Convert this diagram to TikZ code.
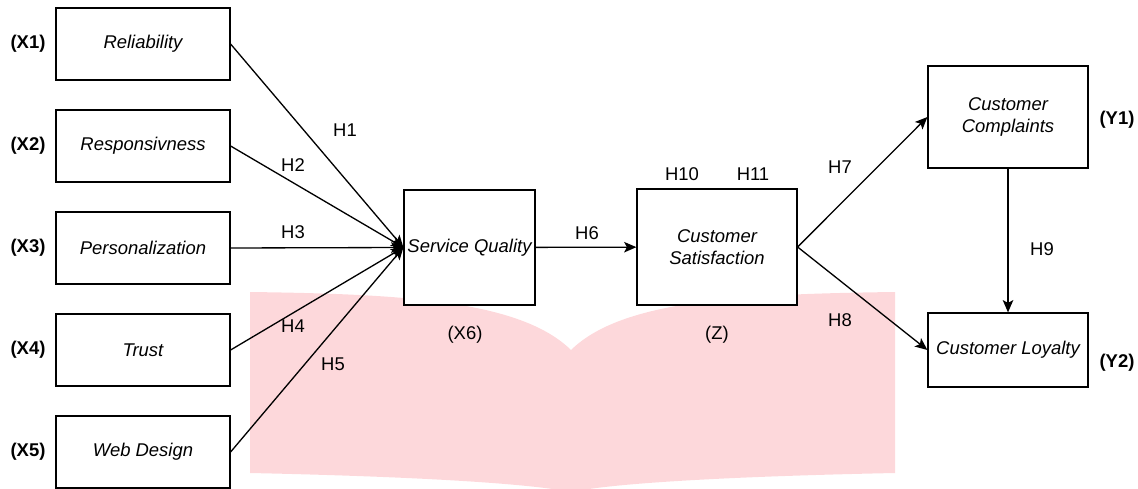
\documentclass[tikz,border=0pt]{standalone}
\usepackage{fontspec}
\setmainfont{Liberation Sans}
\usepackage{tikz}
\usetikzlibrary{shapes}
\usetikzlibrary{arrows.meta}
\definecolor{pagepink}{RGB}{253,216,219}
\tikzset{
  var node/.style={rectangle,draw,fill=white,line width=0.7pt,align=center,
    font=\fontsize{10.5}{12.5}\selectfont\itshape},
  tag/.style={font=\fontsize{10.5}{12.5}\selectfont\bfseries},
  plain tag/.style={font=\fontsize{10.5}{12.5}\selectfont},
  hyp/.style={font=\fontsize{10.5}{12.5}\selectfont}
}

\begin{document}
\begin{tikzpicture}[->,>={Stealth[length=7pt,width=6pt,inset=1.6pt]},x=0.02cm,y=-0.02cm,line width=0.75pt]
        \useasboundingbox (0,0) rectangle (1138,489);
        \fill[pagepink] (250,292) .. controls (400,294) and (520,300) .. (571,350)
              .. controls (622,300) and (742,294) .. (895,292) -- (895,473)
              .. controls (750,476) and (620,482) .. (571,492)
              .. controls (520,482) and (390,476) .. (250,473) -- cycle;

        \node [var node,minimum width=3.48cm,minimum height=1.44cm] (rel) at (143,44) {Reliability};
        \node [var node,minimum width=3.48cm,minimum height=1.44cm] (resp) at (143,146) {Responsivness};
        \node [var node,minimum width=3.48cm,minimum height=1.44cm] (pers) at (143,248) {Personalization};
        \node [var node,minimum width=3.48cm,minimum height=1.44cm] (trust) at (143,350) {Trust};
        \node [var node,minimum width=3.48cm,minimum height=1.44cm] (web) at (143,452) {Web Design};
        \node [var node,minimum width=2.62cm,minimum height=2.3cm,inner sep=1pt] (sq) at (469.5,247.5) {Service Quality};
        \node [var node,minimum width=3.2cm,minimum height=2.32cm] (cs) at (717,247) {Customer\\Satisfaction};
        \node [var node,minimum width=3.2cm,minimum height=2.04cm] (cc) at (1008,117) {Customer\\Complaints};
        \node [var node,minimum width=3.2cm,minimum height=1.48cm] (cl) at (1008,350) {Customer Loyalty};

        \node [tag] (x1) at (28,44) {(X1)};
        \node [tag] (x2) at (28,146) {(X2)};
        \node [tag] (x3) at (28,248) {(X3)};
        \node [tag] (x4) at (28,350) {(X4)};
        \node [tag] (x5) at (28,452) {(X5)};
        \node [plain tag] (x6) at (465,335) {(X6)};
        \node [plain tag] (z) at (717,335) {(Z)};
        \node [tag] (y1) at (1117,120) {(Y1)};
        \node [tag] (y2) at (1117,363) {(Y2)};

        \node [hyp] (h1) at (345,130) {H1};
        \node [hyp] (h2) at (293,165) {H2};
        \node [hyp] (h3) at (293,232) {H3};
        \node [hyp] (h4) at (293,326) {H4};
        \node [hyp] (h5) at (333,364) {H5};
        \node [hyp] (h6) at (587,233) {H6};
        \node [hyp] (h7) at (840,167) {H7};
        \node [hyp] (h8) at (840,320) {H8};
        \node [hyp] (h9) at (1042,249) {H9};
        \node [hyp] (h10) at (682,174) {H10};
        \node [hyp] (h11) at (753,174) {H11};

        \draw (rel.east) -- (sq.west);
        \draw (resp.east) -- (sq.west);
        \draw (pers.east) -- (sq.west);
        \draw (trust.east) -- (sq.west);
        \draw (web.east) -- (sq.west);
        \draw (sq) -- (cs);
        \draw (cs.east) -- (cc.west);
        \draw (cs.east) -- (cl.west);
        \draw (cc) -- (cl);
\end{tikzpicture}
\end{document}
